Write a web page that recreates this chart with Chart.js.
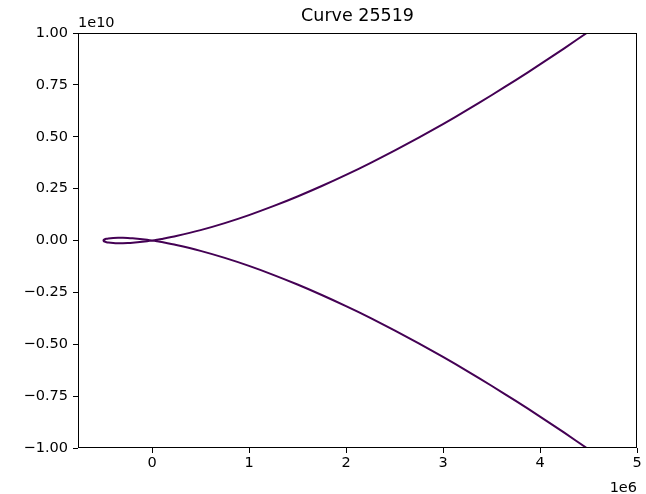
<!DOCTYPE html>
<html>
<head>
<meta charset="utf-8">
<script src="https://cdn.jsdelivr.net/npm/chart.js@4/dist/chart.umd.min.js"></script>
<style>
  html, body { margin: 0; padding: 0; background: #fff; }
  #wrap { width: 646px; height: 494px; position: relative; }
</style>
</head>
<body>
<div id="wrap"><canvas id="c" width="646" height="494"></canvas></div>
<script>
// Values in units of 1e6 (x) and 1e10 (y)
const branchX      = [0, 0.05, 0.1, 0.25, 0.5, 0.75, 1, 1.25, 1.5, 1.75, 2, 2.25, 2.5, 2.75, 3, 3.25, 3.5, 3.75, 4, 4.25, 4.5];
const branchUpperY = [0, 0.0037, 0.0077, 0.0217, 0.05, 0.0839, 0.1225, 0.1654, 0.2121, 0.2625, 0.3162, 0.3731, 0.4330, 0.4958, 0.5612, 0.6294, 0.70, 0.7731, 0.8485, 0.9262, 1.006];
const branchLowerY = [0, -0.0037, -0.0077, -0.0217, -0.05, -0.0839, -0.1225, -0.1654, -0.2121, -0.2625, -0.3162, -0.3731, -0.4330, -0.4958, -0.5612, -0.6294, -0.70, -0.7731, -0.8485, -0.9262, -1.006];
const loopX        = [0, -0.05, -0.1, -0.15, -0.2, -0.25, -0.3, -0.35, -0.4, -0.45, -0.47, -0.49, -0.498, -0.5];
const loopUpperY   = [0, 0.0034, 0.0063, 0.0089, 0.0110, 0.0125, 0.0134, 0.0136, 0.0126, 0.0101, 0.0081, 0.0049, 0.0022, 0];
const loopLowerY   = [0, -0.0034, -0.0063, -0.0089, -0.0110, -0.0125, -0.0134, -0.0136, -0.0126, -0.0101, -0.0081, -0.0049, -0.0022, 0];
const xTicks = [0, 1, 2, 3, 4, 5];
const yTicks = [-1, -0.75, -0.5, -0.25, 0, 0.25, 0.5, 0.75, 1];
const titleText = 'Curve 25519';
const xOffsetText = '1e6';
const yOffsetText = '1e10';

// Build one continuous path: lower-right branch -> loop top -> loop bottom -> upper-right branch
const pts = [];
for (let i = branchX.length - 1; i >= 0; i--) pts.push({x: branchX[i], y: branchLowerY[i]});
for (let i = 1; i < loopX.length; i++) pts.push({x: loopX[i], y: loopUpperY[i]});
for (let i = loopX.length - 2; i >= 0; i--) pts.push({x: loopX[i], y: loopLowerY[i]});
for (let i = 1; i < branchX.length; i++) pts.push({x: branchX[i], y: branchUpperY[i]});

const FONT = 'DejaVu Sans';
const fmtY = v => (v < 0 ? '\u2212' : '') + Math.abs(v).toFixed(2);

const extras = {
  id: 'extras',
  afterDraw(chart) {
    const ctx = chart.ctx, a = chart.chartArea;
    ctx.save();
    ctx.strokeStyle = '#000';
    ctx.lineWidth = 1;
    const l = Math.round(a.left) + 0.5, t = Math.round(a.top) + 0.5;
    const r = Math.round(a.right) - 0.5, b = Math.round(a.bottom) - 0.5;
    ctx.strokeRect(l, t, r - l, b - t);
    ctx.fillStyle = '#000';
    ctx.font = '17.5px ' + FONT;
    ctx.textAlign = 'center';
    ctx.textBaseline = 'middle';
    ctx.fillText(titleText, (a.left + a.right) / 2, 16);
    ctx.font = '14.5px ' + FONT;
    ctx.textAlign = 'left';
    ctx.textBaseline = 'alphabetic';
    ctx.fillText(yOffsetText, a.left, 27);
    ctx.textAlign = 'right';
    ctx.fillText(xOffsetText, a.right, 492);
    ctx.restore();
  }
};

new Chart(document.getElementById('c'), {
  type: 'scatter',
  data: {
    datasets: [{
      data: pts,
      showLine: true,
      borderColor: '#440154',
      backgroundColor: '#440154',
      borderWidth: 2,
      pointRadius: 0,
      tension: 0.25,
      clip: 0
    }]
  },
  options: {
    responsive: false,
    animation: false,
    devicePixelRatio: 1,
    layout: { padding: { left: 0, right: 9, top: 33, bottom: 0 } },
    plugins: { legend: { display: false }, title: { display: false }, tooltip: { enabled: false } },
    scales: {
      x: {
        type: 'linear',
        min: -0.763,
        max: 5,
        afterBuildTicks: s => { s.ticks = xTicks.map(v => ({value: v})); },
        afterFit: s => { s.height = 46; },
        grid: { drawOnChartArea: false, drawTicks: true, tickLength: 5, color: '#000', tickColor: '#000' },
        border: { display: false },
        ticks: { color: '#000', font: { family: FONT, size: 14.5 }, padding: 2, maxRotation: 0,
                 callback: v => String(v) }
      },
      y: {
        type: 'linear',
        min: -1,
        max: 1,
        afterBuildTicks: s => { s.ticks = yTicks.map(v => ({value: v})); },
        afterFit: s => { s.width = 78; },
        grid: { drawOnChartArea: false, drawTicks: true, tickLength: 5, color: '#000', tickColor: '#000' },
        border: { display: false },
        ticks: { color: '#000', font: { family: FONT, size: 14.5 }, padding: 5,
                 callback: v => fmtY(v) }
      }
    }
  },
  plugins: [extras]
});
</script>
</body>
</html>
